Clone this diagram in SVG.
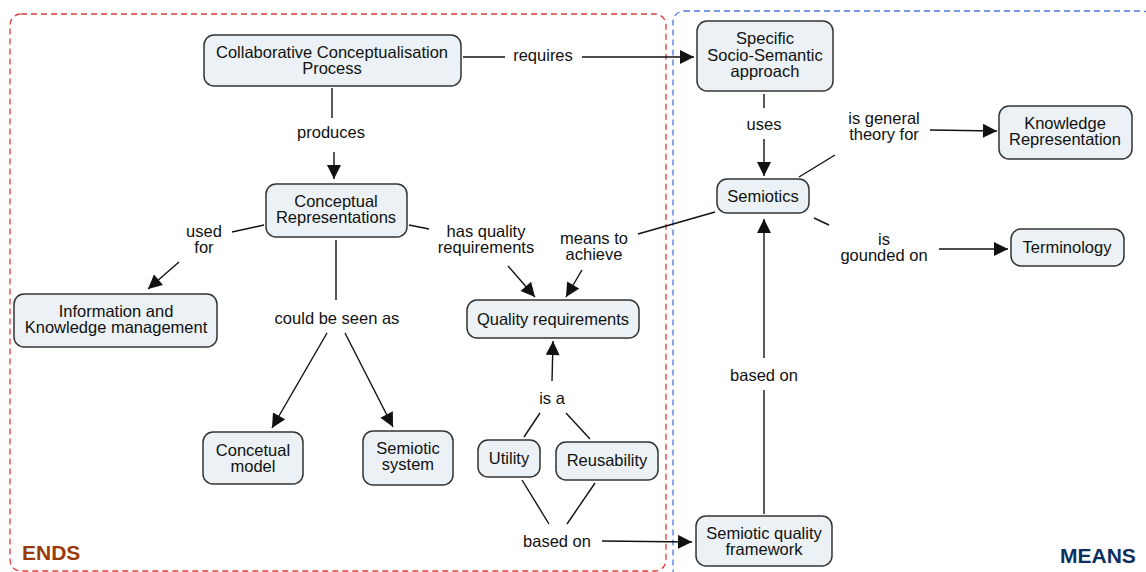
<svg xmlns="http://www.w3.org/2000/svg" width="1146" height="572" viewBox="0 0 1146 572">
  <style>
    .node rect { fill: #ebf1f4; stroke: #333; stroke-width: 1.5; }
    text { font-family: "Liberation Sans", Arial, sans-serif; font-size: 16.5px; fill: #111; text-anchor: middle; }
    .edge { stroke: #111; stroke-width: 1.4; fill: none; }
    .arrow { marker-end: url(#head); }
    .zone { fill: none; stroke-width: 1.3; stroke-dasharray: 6 4; }
    .tag { font-size: 21px; font-weight: bold; text-anchor: start; }
  </style>
  <defs>
    <marker id="head" viewBox="0 0 10 10" refX="10" refY="5" markerWidth="15" markerHeight="14" markerUnits="userSpaceOnUse" orient="auto">
      <path d="M0,0 L10,5 L0,10 z" fill="#111"/>
    </marker>
  </defs>

  <rect width="1146" height="572" fill="#fff"/>

  <!-- regions -->
  <g id="zones">
    <rect class="zone" x="10" y="14" width="656" height="557" rx="11" stroke="#e03a3a"/>
    <rect class="zone" x="673" y="11" width="480" height="570" rx="11" stroke="#4a78d8"/>
    <text class="tag" x="22" y="560" style="fill:#9a3a0a">ENDS</text>
    <text class="tag" x="1060" y="563" style="fill:#0d2f5e">MEANS</text>
  </g>

  <!-- connectors and linking phrases -->
  <g id="connectors">
    <!-- requires -->
    <line class="edge" x1="463" y1="57" x2="505" y2="57"/>
    <line class="edge arrow" x1="582" y1="57" x2="694" y2="57"/>
    <text x="543" y="61">requires</text>
    <!-- produces -->
    <line class="edge" x1="332" y1="88" x2="332" y2="118"/>
    <line class="edge arrow" x1="334" y1="152" x2="334" y2="179"/>
    <text x="331" y="138">produces</text>
    <!-- uses -->
    <line class="edge" x1="764" y1="94" x2="764" y2="108"/>
    <line class="edge arrow" x1="764" y1="139" x2="764" y2="176"/>
    <text x="764" y="130">uses</text>
    <!-- is general theory for -->
    <line class="edge" x1="799" y1="177" x2="835" y2="155"/>
    <line class="edge arrow" x1="930" y1="130" x2="997" y2="131"/>
    <text x="884" y="124">is general</text>
    <text x="884" y="140">theory for</text>
    <!-- is gounded on -->
    <line class="edge" x1="814" y1="218" x2="829" y2="225"/>
    <line class="edge arrow" x1="939" y1="249" x2="1008" y2="249"/>
    <text x="884" y="245">is</text>
    <text x="884" y="261">gounded on</text>
    <!-- used for -->
    <line class="edge" x1="264" y1="225" x2="232" y2="232"/>
    <line class="edge arrow" x1="179" y1="262" x2="148" y2="289"/>
    <text x="204" y="237">used</text>
    <text x="204" y="253">for</text>
    <!-- could be seen as -->
    <line class="edge" x1="336" y1="240" x2="336" y2="300"/>
    <line class="edge arrow" x1="327" y1="333" x2="272" y2="428"/>
    <line class="edge arrow" x1="345" y1="333" x2="393" y2="427"/>
    <text x="337" y="324">could be seen as</text>
    <!-- has quality requirements -->
    <line class="edge" x1="409" y1="225" x2="429" y2="229"/>
    <line class="edge arrow" x1="508" y1="266" x2="535" y2="297"/>
    <text x="486" y="237">has quality</text>
    <text x="486" y="253">requirements</text>
    <!-- means to achieve -->
    <line class="edge" x1="715" y1="212" x2="638" y2="234"/>
    <line class="edge arrow" x1="582" y1="270" x2="566" y2="297"/>
    <text x="594" y="244">means to</text>
    <text x="594" y="260">achieve</text>
    <!-- is a -->
    <line class="edge arrow" x1="552" y1="381" x2="553" y2="341"/>
    <line class="edge" x1="540" y1="413" x2="524" y2="437"/>
    <line class="edge" x1="566" y1="413" x2="590" y2="439"/>
    <text x="552" y="404">is a</text>
    <!-- based on (bottom) -->
    <line class="edge" x1="522" y1="480" x2="549" y2="524"/>
    <line class="edge" x1="595" y1="483" x2="567" y2="524"/>
    <line class="edge arrow" x1="602" y1="541" x2="692" y2="542"/>
    <text x="557" y="547">based on</text>
    <!-- based on (right) -->
    <line class="edge" x1="764" y1="514" x2="764" y2="390"/>
    <line class="edge arrow" x1="764" y1="358" x2="764" y2="219"/>
    <text x="764" y="381">based on</text>
  </g>

  <!-- concepts -->
  <g id="n-ccp" class="node">
    <rect x="204" y="35" width="257" height="51" rx="10"/>
    <text x="332" y="58">Collaborative Conceptualisation</text>
    <text x="332" y="74">Process</text>
  </g>
  <g id="n-ssa" class="node">
    <rect x="697" y="21" width="136" height="70" rx="10"/>
    <text x="765" y="44">Specific</text>
    <text x="765" y="61">Socio-Semantic</text>
    <text x="765" y="77">approach</text>
  </g>
  <g id="n-kr" class="node">
    <rect x="999" y="106" width="133" height="53" rx="10"/>
    <text x="1065" y="129">Knowledge</text>
    <text x="1065" y="145">Representation</text>
  </g>
  <g id="n-semiotics" class="node">
    <rect x="717" y="179" width="92" height="34" rx="10"/>
    <text x="763" y="202">Semiotics</text>
  </g>
  <g id="n-terminology" class="node">
    <rect x="1011" y="229" width="113" height="37" rx="10"/>
    <text x="1067" y="253">Terminology</text>
  </g>
  <g id="n-cr" class="node">
    <rect x="266" y="184" width="141" height="53" rx="10"/>
    <text x="336" y="207">Conceptual</text>
    <text x="336" y="223">Representations</text>
  </g>
  <g id="n-ikm" class="node">
    <rect x="14" y="294" width="203" height="53" rx="10"/>
    <text x="116" y="317">Information and</text>
    <text x="116" y="333">Knowledge management</text>
  </g>
  <g id="n-qr" class="node">
    <rect x="467" y="300" width="172" height="38" rx="10"/>
    <text x="553" y="325">Quality requirements</text>
  </g>
  <g id="n-cm" class="node">
    <rect x="203" y="432" width="100" height="52" rx="10"/>
    <text x="253" y="456">Concetual</text>
    <text x="253" y="472">model</text>
  </g>
  <g id="n-ss" class="node">
    <rect x="363" y="431" width="90" height="54" rx="10"/>
    <text x="408" y="454">Semiotic</text>
    <text x="408" y="470">system</text>
  </g>
  <g id="n-utility" class="node">
    <rect x="478" y="440" width="62" height="37" rx="10"/>
    <text x="509" y="464">Utility</text>
  </g>
  <g id="n-reuse" class="node">
    <rect x="556" y="442" width="102" height="38" rx="10"/>
    <text x="607" y="466">Reusability</text>
  </g>
  <g id="n-sqf" class="node">
    <rect x="696" y="516" width="136" height="50" rx="10"/>
    <text x="764" y="539">Semiotic quality</text>
    <text x="764" y="555">framework</text>
  </g>
</svg>
